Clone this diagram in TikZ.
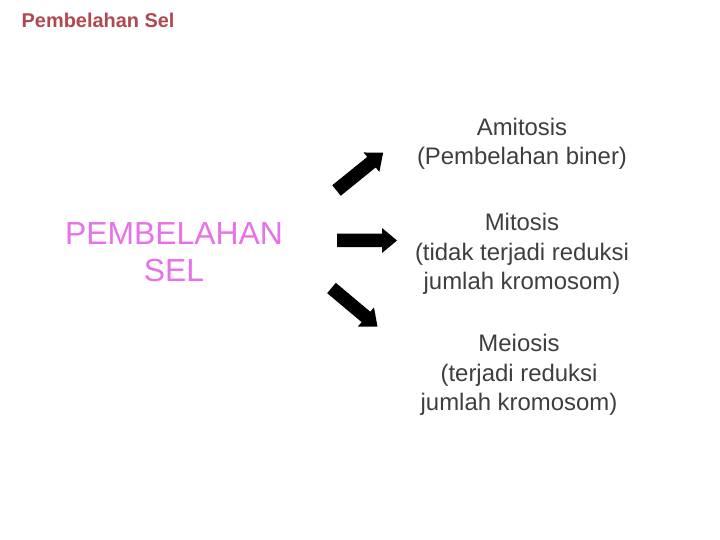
\documentclass[tikz,border=0pt]{standalone}
\usepackage{fontspec}
\setmainfont{Liberation Sans}
\definecolor{judul}{RGB}{176,72,80}
\definecolor{merahmuda}{RGB}{232,112,232}
\definecolor{abutua}{RGB}{62,62,62}
\tikzset{
	teksjenis/.style={align=center, text=abutua, inner sep=0pt, font=\fontsize{24}{29.5}\selectfont},
}
\begin{document}
\begin{tikzpicture}[x=1bp,y=-1bp]
		\useasboundingbox (0,0) rectangle (720,540);
		\node[anchor=west, inner sep=0pt, text=judul, font=\fontsize{20}{24}\bfseries] (judulsel) at (21.5,20.5) {Pembelahan Sel};
		\node[align=center, inner sep=0pt, text=merahmuda, font=\fontsize{32}{37}\selectfont] (pembelahan) at (174,252) {PEMBELAHAN\\SEL};
		% panah blok
		\fill[black, shift={(336.5,190.5)}, rotate=39] (0,-6.75) -- (45,-6.75) -- (45,-12.5) -- (60,0) -- (45,12.5) -- (45,6.75) -- (0,6.75) -- cycle;
		\fill[black, shift={(337,240.5)}] (0,-6.75) -- (45,-6.75) -- (45,-12.5) -- (60,0) -- (45,12.5) -- (45,6.75) -- (0,6.75) -- cycle;
		\fill[black, shift={(331.5,288)}, rotate=-40] (0,-6.75) -- (45,-6.75) -- (45,-12.5) -- (60,0) -- (45,12.5) -- (45,6.75) -- (0,6.75) -- cycle;
		\node[teksjenis] (amitosis) at (522,144) {Amitosis\\(Pembelahan biner)};
		\node[teksjenis] (mitosis) at (522,254) {Mitosis\\(tidak terjadi reduksi\\jumlah kromosom)};
		\node[teksjenis] (meiosis) at (519,375) {Meiosis\\(terjadi reduksi\\jumlah kromosom)};
	\end{tikzpicture}
\end{document}
